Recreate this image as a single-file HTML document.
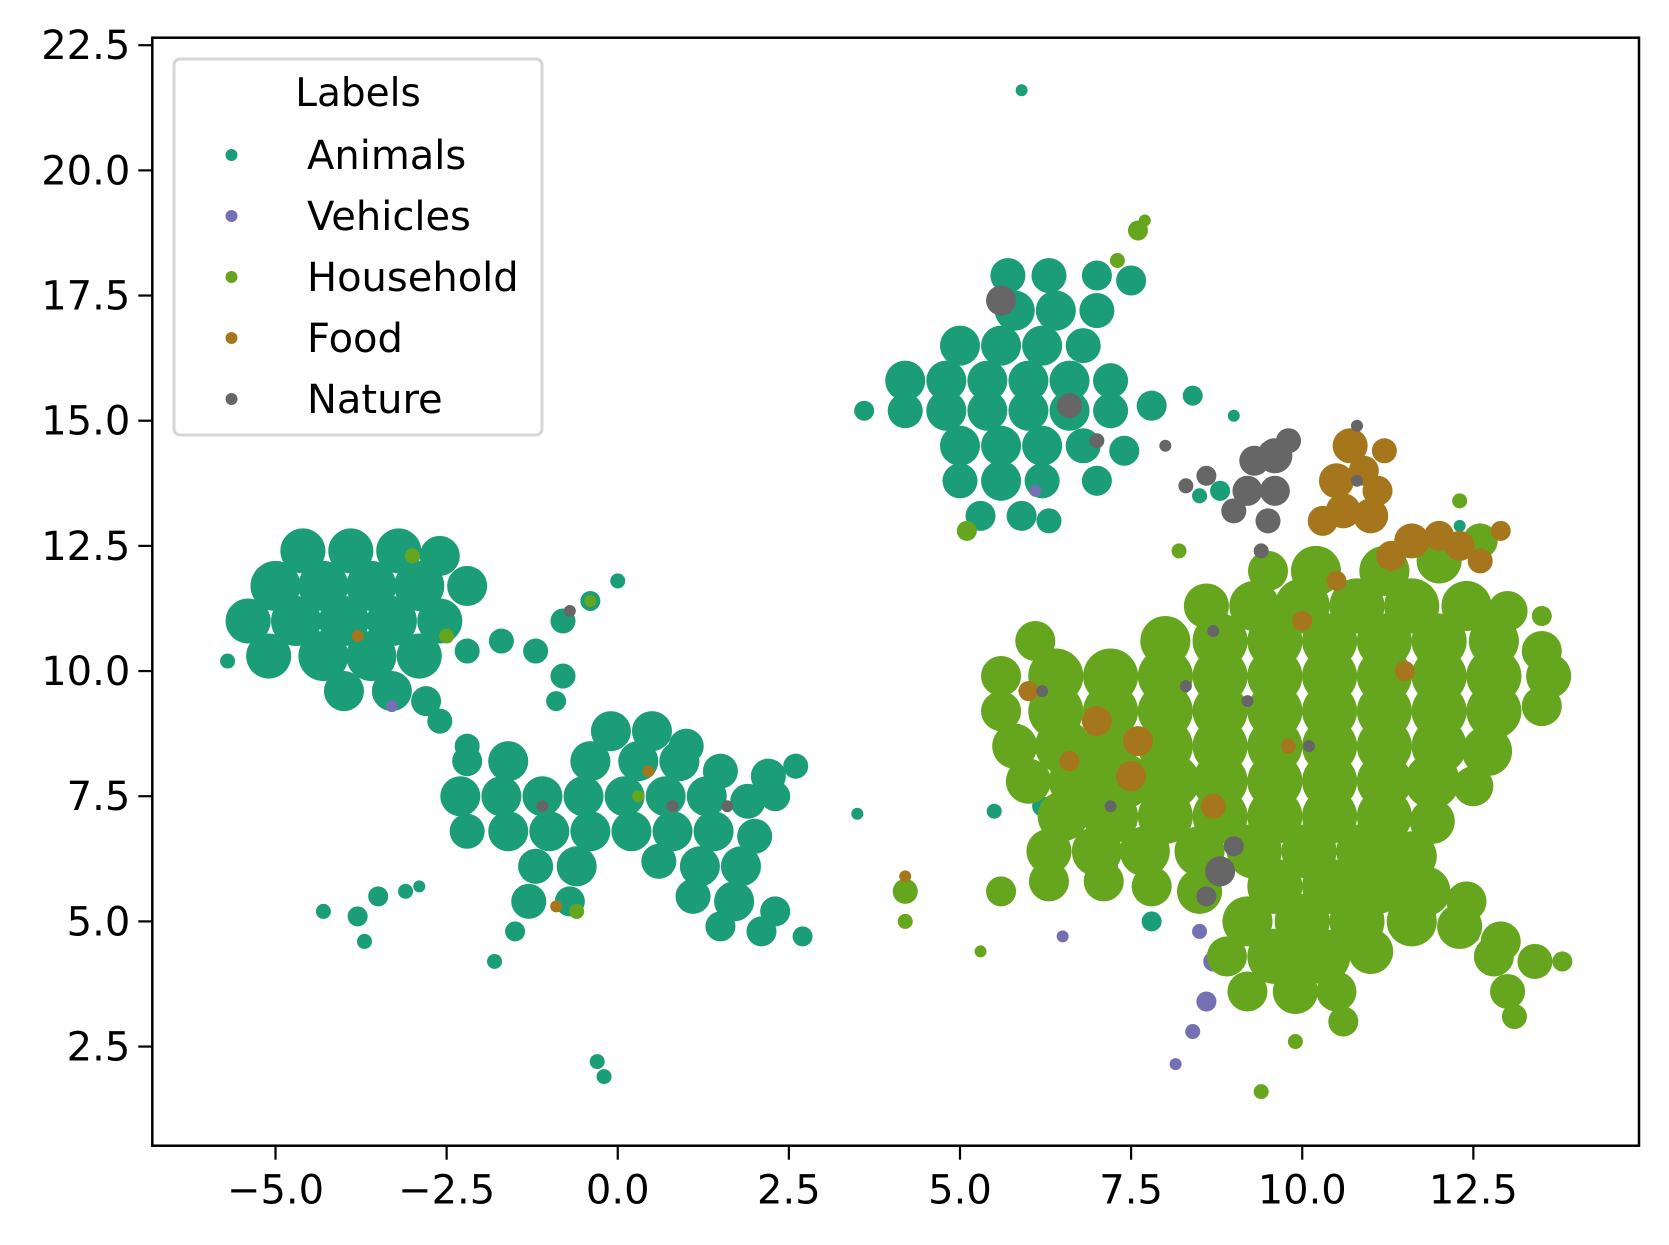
<!DOCTYPE html>
<html><head><meta charset="utf-8"><style>
html,body{margin:0;padding:0;background:#fff}
svg{display:block}
text{font-family:"DejaVu Sans","Liberation Sans",sans-serif;fill:#000}
</style></head><body>
<svg id="chart" width="1669" height="1245" viewBox="0 0 1669 1245" xmlns="http://www.w3.org/2000/svg">
<rect x="0" y="0" width="1669" height="1245" fill="#fff"/>
<defs><clipPath id="clip"><rect x="152.3" y="37.7" width="1486.7" height="1108"/></clipPath></defs>
<g id="marks" clip-path="url(#clip)"></g>
<rect x="152.3" y="37.7" width="1486.7" height="1108" fill="none" stroke="#000" stroke-width="2.5"/>
<g id="axes"></g>
<g>
<rect x="174" y="59" width="368" height="376" rx="6" fill="#fff" fill-opacity="0.8" stroke="#d6d6d6" stroke-width="3"/>
<text x="358" y="106" font-size="39" text-anchor="middle">Labels</text>
<g id="legend-items"></g>
</g>
</svg>
<script>
const xTicks=[-5.0,-2.5,0.0,2.5,5.0,7.5,10.0,12.5];
const yTicks=[2.5,5.0,7.5,10.0,12.5,15.0,17.5,20.0,22.5];
const xTickLabels=["\u22125.0","\u22122.5","0.0","2.5","5.0","7.5","10.0","12.5"];
const yTickLabels=["2.5","5.0","7.5","10.0","12.5","15.0","17.5","20.0","22.5"];
const seriesNames=["Animals","Vehicles","Household","Food","Nature"];
const seriesColors=["#1b9e77","#7570b3","#66a61e","#a6761d","#666666"];
// point clusters [x, y, spread]
const animals=[
[-4.6,12.4,0.45],[-3.9,12.4,0.45],[-3.2,12.4,0.45],[-2.6,12.3,0.4],
[-5.0,11.7,0.5],[-4.3,11.7,0.5],[-3.6,11.7,0.5],[-2.9,11.7,0.5],[-2.2,11.7,0.4],
[-5.4,11.0,0.45],[-4.7,11.0,0.5],[-4.0,11.0,0.5],[-3.3,11.0,0.5],[-2.6,11.0,0.45],
[-5.1,10.3,0.45],[-4.3,10.3,0.5],[-3.6,10.3,0.5],[-2.9,10.3,0.45],
[-4.0,9.6,0.4],[-3.3,9.6,0.4],[-2.8,9.4,0.3],[-5.7,10.2,0.15],
[-2.2,10.4,0.25],[-1.7,10.6,0.25],[-1.2,10.4,0.25],[-0.8,9.9,0.25],[-2.6,9.0,0.25],[-2.2,8.5,0.25],[-0.9,9.4,0.2],
[-0.8,11.0,0.25],[-0.4,11.4,0.2],[0,11.8,0.15],
[-0.1,8.8,0.4],[0.5,8.8,0.4],[1.0,8.5,0.35],
[-2.2,8.2,0.3],[-1.6,8.2,0.4],[-0.4,8.2,0.4],[0.3,8.2,0.4],[0.9,8.2,0.4],[1.5,8.0,0.35],[2.2,7.9,0.35],[2.6,8.1,0.25],
[-2.3,7.5,0.4],[-1.7,7.5,0.4],[-1.1,7.5,0.4],[-0.5,7.5,0.4],[0.1,7.5,0.4],[0.7,7.5,0.4],[1.3,7.5,0.4],[1.9,7.4,0.35],[2.3,7.5,0.3],
[-2.2,6.8,0.35],[-1.6,6.8,0.4],[-1.0,6.8,0.4],[-0.4,6.8,0.4],[0.2,6.8,0.4],[0.8,6.8,0.4],[1.4,6.8,0.4],[2.0,6.7,0.35],
[-1.2,6.1,0.35],[-0.6,6.1,0.4],[0.6,6.2,0.35],[1.2,6.1,0.4],[1.8,6.1,0.4],
[-1.3,5.4,0.35],[-0.7,5.4,0.3],[1.1,5.5,0.35],[1.7,5.4,0.4],[2.3,5.2,0.3],
[1.5,4.9,0.3],[2.1,4.8,0.3],[2.7,4.7,0.2],[-1.5,4.8,0.2],[-1.8,4.2,0.15],
[-4.3,5.2,0.15],[-3.8,5.1,0.2],[-3.5,5.5,0.2],[-3.1,5.6,0.15],[-3.7,4.6,0.15],[-2.9,5.7,0.12],
[-0.3,2.2,0.15],[-0.2,1.9,0.15],[3.5,7.15,0.12],
[5.7,17.9,0.35],[6.3,17.9,0.35],[7.0,17.9,0.3],[7.5,17.8,0.3],
[5.8,17.2,0.4],[6.4,17.2,0.4],[7.0,17.2,0.35],
[5.0,16.5,0.4],[5.6,16.5,0.4],[6.2,16.5,0.4],[6.8,16.5,0.35],
[4.2,15.8,0.4],[4.8,15.8,0.4],[5.4,15.8,0.4],[6.0,15.8,0.4],[6.6,15.8,0.4],[7.2,15.8,0.35],
[3.6,15.2,0.2],[4.2,15.2,0.35],[4.8,15.2,0.4],[5.4,15.2,0.4],[6.0,15.2,0.4],[6.6,15.2,0.4],[7.2,15.2,0.35],[7.8,15.3,0.3],[8.4,15.5,0.2],[9.0,15.1,0.12],
[5.0,14.5,0.4],[5.6,14.5,0.4],[6.2,14.5,0.4],[6.8,14.5,0.35],[7.4,14.4,0.3],
[5.0,13.8,0.35],[5.6,13.8,0.4],[6.2,13.8,0.35],[7.0,13.8,0.3],
[5.3,13.1,0.3],[5.9,13.1,0.3],[6.3,13.0,0.25],
[5.9,21.6,0.12],[5.5,7.2,0.15],[6.2,7.3,0.2],[7.8,5.0,0.2],[8.8,13.6,0.2],[8.5,13.5,0.15],[12.3,12.9,0.1]];
const vehicles=[[8.15,2.15,0.12],[8.4,2.8,0.15],[8.6,3.4,0.2],[8.7,4.2,0.2],[8.5,4.8,0.15],[6.5,4.7,0.12],[7.2,6.1,0.15],[12.5,4.7,0.1],[-3.3,9.3,0.12],[6.1,13.6,0.1]];
const household=[
[9.5,12.0,0.4],[10.2,12.0,0.5],[11.2,12.0,0.5],[12.0,12.2,0.45],[12.6,12.6,0.35],
[8.6,11.3,0.45],[9.3,11.3,0.5],[10.0,11.3,0.55],[10.8,11.3,0.55],[11.6,11.3,0.55],[12.4,11.3,0.5],[13.0,11.2,0.4],
[6.1,10.6,0.4],[8.0,10.6,0.5],[8.8,10.6,0.55],[9.6,10.6,0.55],[10.4,10.6,0.55],[11.2,10.6,0.55],[12.0,10.6,0.55],[12.8,10.6,0.5],[13.5,10.4,0.4],
[5.6,9.9,0.4],[6.4,9.9,0.55],[7.2,9.9,0.55],[8.0,9.9,0.55],[8.8,9.9,0.55],[9.6,9.9,0.55],[10.4,9.9,0.55],[11.2,9.9,0.55],[12.0,9.9,0.55],[12.8,9.9,0.55],[13.6,9.9,0.45],
[5.6,9.2,0.4],[6.4,9.2,0.55],[7.2,9.2,0.55],[8.0,9.2,0.55],[8.8,9.2,0.55],[9.6,9.2,0.55],[10.4,9.2,0.55],[11.2,9.2,0.55],[12.0,9.2,0.55],[12.8,9.2,0.55],[13.5,9.3,0.4],
[5.8,8.5,0.45],[6.5,8.5,0.55],[7.2,8.5,0.55],[8.0,8.5,0.55],[8.8,8.5,0.55],[9.6,8.5,0.55],[10.4,8.5,0.55],[11.2,8.5,0.55],[12.0,8.5,0.55],[12.7,8.4,0.5],
[6.0,7.8,0.45],[6.7,7.8,0.55],[7.4,7.8,0.55],[8.1,7.8,0.55],[8.8,7.8,0.55],[9.6,7.8,0.55],[10.4,7.8,0.55],[11.2,7.8,0.55],[11.9,7.8,0.55],[12.5,7.7,0.4],
[6.5,7.1,0.5],[7.2,7.1,0.55],[8.0,7.1,0.55],[8.8,7.1,0.55],[9.6,7.1,0.55],[10.4,7.1,0.55],[11.2,7.1,0.55],[11.9,7.0,0.45],
[6.3,6.4,0.45],[7.0,6.4,0.5],[7.7,6.4,0.5],[8.5,6.4,0.5],[9.3,6.4,0.55],[10.1,6.4,0.55],[10.9,6.4,0.55],[11.6,6.3,0.5],
[5.6,5.6,0.3],[6.3,5.8,0.4],[7.1,5.8,0.4],[7.8,5.7,0.4],[8.5,5.6,0.45],[9.6,5.7,0.55],[10.4,5.7,0.55],[11.1,5.7,0.55],[11.8,5.6,0.5],[12.4,5.4,0.4],
[9.2,5.0,0.5],[10.0,5.0,0.55],[10.8,5.0,0.55],[11.6,5.0,0.5],[12.3,4.9,0.45],[12.9,4.6,0.4],
[8.9,4.3,0.4],[9.6,4.3,0.55],[10.3,4.3,0.55],[11.0,4.4,0.45],[12.8,4.3,0.4],[13.4,4.2,0.35],[13.8,4.2,0.2],
[9.2,3.6,0.4],[9.9,3.6,0.45],[10.5,3.6,0.4],[13.0,3.6,0.35],
[10.6,3.0,0.3],[13.1,3.1,0.25],[9.9,2.6,0.15],[9.4,1.6,0.15],[5.3,4.4,0.1],[8.2,12.4,0.15],[13.5,11.1,0.2],[12.3,13.4,0.15],
[7.6,18.8,0.2],[7.3,18.2,0.15],[7.7,19.0,0.12],[4.2,5.6,0.25],[4.2,5.0,0.15],[5.1,12.8,0.2],[-3,12.3,0.15],[-2.5,10.7,0.15],[-0.4,11.4,0.12],[0.3,7.5,0.12],[-0.6,5.2,0.15]];
const food=[[10.7,14.5,0.35],[10.5,13.8,0.35],[10.6,13.2,0.35],[11.0,13.1,0.35],[11.2,14.4,0.25],[10.9,14.0,0.3],[11.1,13.6,0.3],[10.3,13.0,0.3],[11.3,12.3,0.3],[12.0,12.7,0.3],[12.6,12.2,0.25],[11.6,12.6,0.35],[12.3,12.5,0.3],[12.9,12.8,0.2],[6.0,9.6,0.2],[7.0,9.0,0.3],[7.6,8.6,0.3],[7.5,7.9,0.3],[6.6,8.2,0.2],[10.0,11.0,0.2],[11.5,10.0,0.2],[8.7,7.3,0.25],[9.8,8.5,0.15],[10.5,11.8,0.2],[-3.8,10.7,0.1],[0.45,8.0,0.1],[-0.9,5.3,0.1],[4.2,5.9,0.1]];
const nature=[[5.6,17.4,0.3],[6.6,15.3,0.25],[7.0,14.6,0.15],[9.6,14.3,0.35],[9.8,14.6,0.25],[9.3,14.2,0.3],[9.0,13.2,0.25],[9.6,13.6,0.3],[8.3,13.7,0.15],[8.0,14.5,0.12],[9.2,13.6,0.3],[8.6,13.9,0.2],[9.5,13.0,0.25],[9.4,12.4,0.15],[8.8,6.0,0.3],[8.6,5.5,0.2],[9.0,6.5,0.2],[0.8,7.3,0.08],[1.6,7.3,0.08],[-1.1,7.3,0.08],[-0.7,11.2,0.08],[10.8,14.9,0.1],[10.8,13.8,0.1],[8.3,9.7,0.08],[9.2,9.4,0.08],[7.2,7.3,0.08],[10.1,8.5,0.08],[6.2,9.6,0.08],[8.7,10.8,0.08]];
const allSeries=[animals,vehicles,household,food,nature];

const X0=152.3,X1=1639,Y0=37.7,Y1=1145.7,xMin=-6.8,xMax=14.92,yMin=0.52,yMax=22.65;
function sx(v){return X0+(v-xMin)/(xMax-xMin)*(X1-X0);}
function sy(v){return Y1-(v-yMin)/(yMax-yMin)*(Y1-Y0);}
const pyUnit=(Y1-Y0)/(yMax-yMin);
const NS="http://www.w3.org/2000/svg";
const marks=document.getElementById('marks');
allSeries.forEach((pts,si)=>{
  const g=document.createElementNS(NS,'g');
  
  
  g.setAttribute('fill',seriesColors[si]);
  pts.forEach(p=>{
    const c=document.createElementNS(NS,'circle');
    
    
    c.setAttribute('cx',sx(p[0]));c.setAttribute('cy',sy(p[1]));
    c.setAttribute('r',Math.max(6,p[2]*pyUnit));
    g.appendChild(c);
  });
  marks.appendChild(g);
});
const axes=document.getElementById('axes');
xTicks.forEach((t,i)=>{
  const x=sx(t);
  const l=document.createElementNS(NS,'line');
  
  
  l.setAttribute('x1',x);l.setAttribute('x2',x);l.setAttribute('y1',Y1);l.setAttribute('y2',Y1+14);
  l.setAttribute('stroke','#000');l.setAttribute('stroke-width','2.2');axes.appendChild(l);
  const tx=document.createElementNS(NS,'text');
  
  
  tx.setAttribute('x',x);tx.setAttribute('y',Y1+58);tx.setAttribute('font-size','40');tx.setAttribute('text-anchor','middle');
  tx.textContent=xTickLabels[i];axes.appendChild(tx);
});
yTicks.forEach((t,i)=>{
  const y=sy(t);
  const l=document.createElementNS(NS,'line');
  
  
  l.setAttribute('x1',X0-14);l.setAttribute('x2',X0);l.setAttribute('y1',y);l.setAttribute('y2',y);
  l.setAttribute('stroke','#000');l.setAttribute('stroke-width','2.2');axes.appendChild(l);
  const tx=document.createElementNS(NS,'text');
  
  
  tx.setAttribute('x',X0-22);tx.setAttribute('y',y+14);tx.setAttribute('font-size','40');tx.setAttribute('text-anchor','end');
  tx.textContent=yTickLabels[i];axes.appendChild(tx);
});
const li=document.getElementById('legend-items');
seriesNames.forEach((n,i)=>{
  const y=155+i*61;
  const g=document.createElementNS(NS,'g');
  
  
  const c=document.createElementNS(NS,'circle');
  
  
  c.setAttribute('cx',231.5);c.setAttribute('cy',y);c.setAttribute('r',6);c.setAttribute('fill',seriesColors[i]);
  g.appendChild(c);
  const t=document.createElementNS(NS,'text');
  
  
  t.setAttribute('x',307);t.setAttribute('y',y+14);t.setAttribute('font-size','40');
  t.textContent=n;g.appendChild(t);
  li.appendChild(g);
});
</script>
</body></html>
